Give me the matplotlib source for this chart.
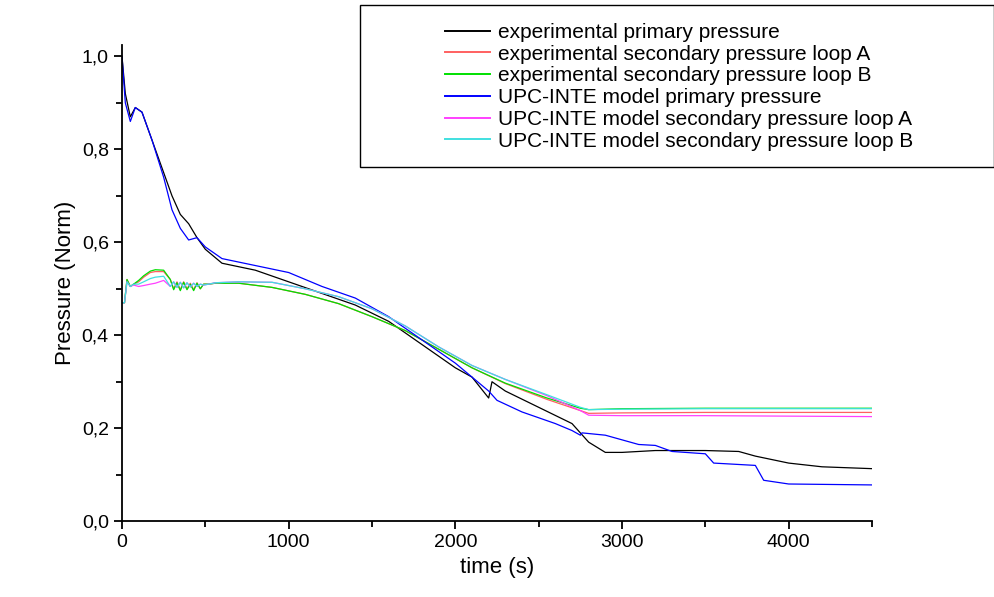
import matplotlib
matplotlib.use('Agg')
import matplotlib.pyplot as plt
from matplotlib.patches import Rectangle
from matplotlib.ticker import MultipleLocator, FuncFormatter

plt.rcParams['font.family'] = ['Liberation Sans', 'DejaVu Sans']

# experimental primary pressure
t_exp_p = [0, 20, 50, 80, 120, 180, 250, 300, 350, 400, 450, 500, 600, 800, 1000, 1200, 1400, 1600,
           1800, 2000, 2100, 2200, 2220, 2300, 2500, 2700, 2800, 2900, 3000, 3200, 3500, 3700, 3800,
           4000, 4200, 4500]
p_exp_p = [1.0, 0.92, 0.87, 0.89, 0.88, 0.82, 0.75, 0.70, 0.66, 0.64, 0.61, 0.585, 0.555, 0.54, 0.515,
           0.49, 0.465, 0.43, 0.38, 0.33, 0.31, 0.265, 0.30, 0.28, 0.245, 0.21, 0.17, 0.148, 0.148,
           0.152, 0.152, 0.15, 0.14, 0.125, 0.117, 0.113]

# model primary pressure
t_mod_p = [0, 20, 50, 80, 120, 180, 250, 300, 350, 400, 450, 500, 600, 800, 1000, 1200, 1400, 1600,
           1800, 2000, 2200, 2250, 2400, 2600, 2700, 2750, 2760, 2900, 3000, 3100, 3200, 3300, 3500,
           3550, 3800, 3850, 4000, 4500]
p_mod_p = [1.0, 0.90, 0.86, 0.89, 0.88, 0.82, 0.74, 0.67, 0.63, 0.605, 0.61, 0.59, 0.565, 0.55, 0.535,
           0.505, 0.48, 0.44, 0.39, 0.34, 0.28, 0.26, 0.235, 0.21, 0.195, 0.185, 0.19, 0.185, 0.175,
           0.165, 0.163, 0.15, 0.145, 0.125, 0.12, 0.088, 0.08, 0.078]

# secondary pressures
t_sec = [0, 15, 30, 50, 70, 100, 130, 170, 200, 250, 290, 310, 330, 350, 370, 390, 410, 430, 450,
         470, 490, 520, 560, 700, 900, 1100, 1300, 1500, 1700, 1900, 2100, 2300, 2550, 2750, 2800,
         3000, 3500, 4500]
p_exp_a = [0.47, 0.47, 0.52, 0.505, 0.51, 0.515, 0.525, 0.535, 0.537, 0.537, 0.52, 0.50, 0.515, 0.498,
           0.515, 0.50, 0.512, 0.498, 0.513, 0.50, 0.51, 0.51, 0.512, 0.512, 0.503, 0.488, 0.468, 0.44,
           0.41, 0.37, 0.33, 0.296, 0.262, 0.238, 0.232, 0.233, 0.234, 0.234]
p_exp_b = [0.47, 0.47, 0.52, 0.505, 0.51, 0.518, 0.528, 0.538, 0.541, 0.54, 0.52, 0.498, 0.513, 0.496,
           0.514, 0.498, 0.51, 0.496, 0.512, 0.50, 0.51, 0.51, 0.512, 0.512, 0.503, 0.488, 0.468, 0.44,
           0.41, 0.37, 0.33, 0.297, 0.265, 0.243, 0.24, 0.242, 0.243, 0.243]
p_mod_a = [0.47, 0.47, 0.515, 0.505, 0.508, 0.505, 0.507, 0.51, 0.512, 0.518, 0.505, 0.515, 0.503,
           0.514, 0.502, 0.513, 0.504, 0.512, 0.505, 0.51, 0.508, 0.51, 0.513, 0.515, 0.514, 0.5, 0.483,
           0.457, 0.42, 0.375, 0.335, 0.305, 0.27, 0.238, 0.228, 0.227, 0.227, 0.225]
p_mod_b = [0.47, 0.47, 0.515, 0.505, 0.51, 0.51, 0.515, 0.522, 0.525, 0.527, 0.505, 0.515, 0.503,
           0.514, 0.502, 0.513, 0.504, 0.512, 0.505, 0.51, 0.508, 0.51, 0.513, 0.515, 0.514, 0.5, 0.483,
           0.457, 0.42, 0.375, 0.335, 0.305, 0.272, 0.245, 0.24, 0.241, 0.242, 0.242]

labels = ['experimental primary pressure', 'experimental secondary pressure loop A',
          'experimental secondary pressure loop B', 'UPC-INTE model primary pressure',
          'UPC-INTE model secondary pressure loop A', 'UPC-INTE model secondary pressure loop B']

fig = plt.figure(figsize=(9.95, 5.97), dpi=100)
ax = fig.add_axes([0.1226, 0.127, 0.7538, 0.798])

h1, = ax.plot(t_exp_p, p_exp_p, color='black', lw=0.9)
h2, = ax.plot(t_sec, p_exp_a, color='#ff6060', lw=0.9)
h3, = ax.plot(t_sec, p_exp_b, color='#00e000', lw=0.9)
h4, = ax.plot(t_mod_p, p_mod_p, color='#0000ff', lw=0.9)
h5, = ax.plot(t_sec, p_mod_a, color='#ff40ff', lw=0.9)
h6, = ax.plot(t_sec, p_mod_b, color='#40e0e0', lw=0.9)

ax.set_xlim(0, 4500)
ax.set_ylim(0, 1.025)
ax.spines['top'].set_visible(False)
ax.spines['right'].set_visible(False)
ax.spines['left'].set_linewidth(1.3)
ax.spines['bottom'].set_linewidth(1.3)
ax.xaxis.set_major_locator(MultipleLocator(1000))
ax.xaxis.set_minor_locator(MultipleLocator(500))
ax.yaxis.set_major_locator(MultipleLocator(0.2))
ax.yaxis.set_minor_locator(MultipleLocator(0.1))
ax.yaxis.set_major_formatter(FuncFormatter(lambda v, p: ('%.1f' % v).replace('.', ',')))
ax.tick_params(which='major', direction='out', length=6, width=1.3, labelsize=14)
ax.tick_params(which='minor', direction='out', length=4, width=1.3)
ax.set_xlabel('time (s)', fontsize=16)
ax.set_ylabel('Pressure (Norm)', fontsize=16)

# legend box drawn separately
W, H = 995.0, 597.0
fig.patches.append(Rectangle((360 / W, 1 - 167 / H), 634 / W, 162 / H, transform=fig.transFigure,
                             fill=False, edgecolor='black', lw=1.0))
leg = fig.legend([h1, h2, h3, h4, h5, h6], labels, loc='upper left',
                 bbox_to_anchor=(445 / W, 1 - 23 / H), frameon=False,
                 fontsize=15, handlelength=2.15, handletextpad=0.4, labelspacing=0.13,
                 borderpad=0, borderaxespad=0)
for ln in leg.get_lines():
    ln.set_linewidth(1.4)

fig.savefig('out.png', dpi=100)
